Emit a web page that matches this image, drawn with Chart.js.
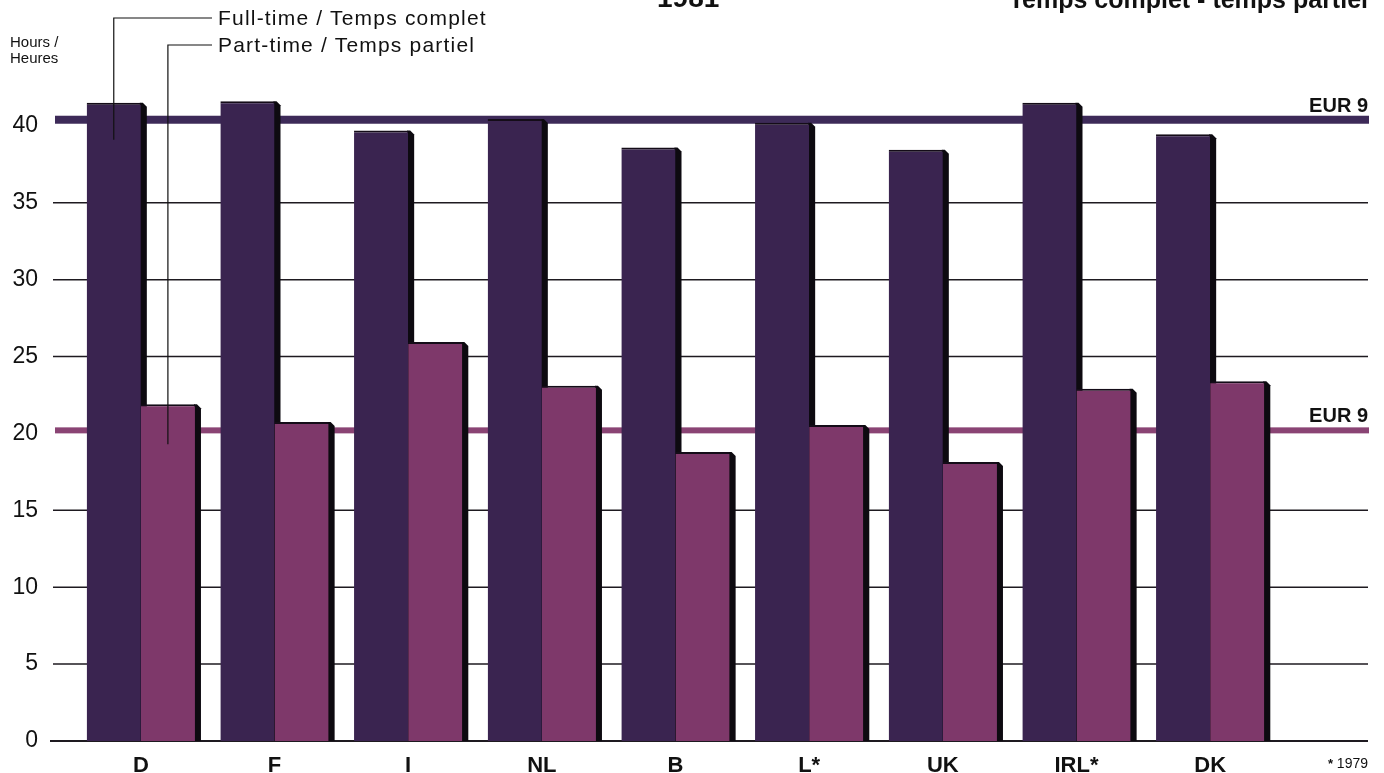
<!DOCTYPE html>
<html>
<head>
<meta charset="utf-8">
<script src="https://cdn.jsdelivr.net/npm/chart.js@4.4.0/dist/chart.umd.min.js"></script>
<style>
body{margin:0;background:#fff;}
#wrap{position:relative;width:1384px;height:773px;overflow:hidden;font-family:'Liberation Sans',Arial,sans-serif;color:#111;}
#myChart{position:absolute;left:0;top:0;}
.t{position:absolute;white-space:nowrap;}
</style>
</head>
<body>
<div id="wrap">
  <canvas id="myChart" width="1384" height="773"></canvas>
  <div class="t" style="left:657px;top:-16px;font:bold 28px/28px 'Liberation Sans',Arial;">1981</div>
  <div class="t" style="right:16px;top:-13px;font:bold 25px/25px 'Liberation Sans',Arial;">Temps complet - temps partiel</div>
  <div class="t" style="left:10px;top:34px;font:15px/16px 'Liberation Sans',Arial;">Hours /<br>Heures</div>
  <div class="t" style="left:218px;top:7px;font:21px/21px 'Liberation Sans',Arial;letter-spacing:1.2px;">Full-time / Temps complet</div>
  <div class="t" style="left:218px;top:34px;font:21px/21px 'Liberation Sans',Arial;letter-spacing:1.2px;">Part-time / Temps partiel</div>
  <div class="t" style="right:16px;top:755px;font:14px/16px 'Liberation Sans Narrow','Liberation Sans',Arial;"><span style="font-size:13px;font-weight:bold">*</span> 1979</div>
</div>
<script>
// datos (horas semanales, 1981)
const paises = ['D', 'F', 'I', 'NL', 'B', 'L*', 'UK', 'IRL*', 'DK'];
const tiempoCompleto = [41.5, 41.6, 39.7, 40.45, 38.6, 40.2, 38.45, 41.5, 39.45];
const tiempoParcial = [21.9, 20.75, 25.95, 23.1, 18.8, 20.55, 18.15, 22.9, 23.4];
const eur9Completo = 40.4;
const eur9Parcial = 20.2;
const ticksY = [0, 5, 10, 15, 20, 25, 30, 35, 40];

const colorCompleto = 'rgb(58, 36, 80)';
const colorParcial = 'rgb(126, 56, 106)';

// lineas de fondo, EUR 9 y sombras de las barras
const fondo = {
    id: 'fondo',
    beforeDatasetsDraw(chart) {
        let c = chart.ctx;
        let y = chart.scales.y;
        c.save();
        ticksY.forEach(function (v) {
            if (v == 20 || v == 40) return;
            let py = y.getPixelForValue(v);
            c.strokeStyle = '#1e1a20';
            c.lineWidth = v == 0 ? 2 : 1.5;
            c.beginPath();
            c.moveTo(v == 0 ? 50 : 53, py);
            c.lineTo(1368, py);
            c.stroke();
        });

        let py1 = y.getPixelForValue(eur9Completo);
        c.fillStyle = '#3d2a58';
        c.fillRect(55, py1 - 4, 1369 - 55, 8);
        let py2 = y.getPixelForValue(eur9Parcial);
        c.fillStyle = '#8a4474';
        c.fillRect(55, py2 - 3, 1369 - 55, 6);

        chart.data.datasets.forEach(function (ds, i) {
            chart.getDatasetMeta(i).data.forEach(function (bar) {
                let r = bar.x + bar.width / 2;
                let top = bar.y;
                let base = bar.base;
                c.fillStyle = '#0d0a10';
                c.beginPath();
                c.moveTo(r - 1, top);
                c.lineTo(r + 2, top);
                c.lineTo(r + 6, top + 4);
                c.lineTo(r + 6, base);
                c.lineTo(r - 1, base);
                c.closePath();
                c.fill();
            });
        });
        c.restore();
    },
    afterDatasetsDraw(chart) {
        let c = chart.ctx;
        let y = chart.scales.y;
        c.save();
        // etiquetas EUR 9
        c.fillStyle = '#111';
        c.font = "bold 20px 'Liberation Sans', Arial";
        c.textAlign = 'right';
        c.textBaseline = 'alphabetic';
        c.fillText('EUR 9', 1368, y.getPixelForValue(eur9Completo) - 8);
        c.fillText('EUR 9', 1368, y.getPixelForValue(eur9Parcial) - 8);

        // lineas de la leyenda
        let b1 = chart.getDatasetMeta(0).data[0];
        let b2 = chart.getDatasetMeta(1).data[0];
        c.strokeStyle = '#111';
        c.lineWidth = 1.2;
        c.beginPath();
        c.moveTo(212, 18);
        c.lineTo(b1.x, 18);
        c.lineTo(b1.x, b1.y + 37);
        c.moveTo(212, 45);
        c.lineTo(b2.x, 45);
        c.lineTo(b2.x, b2.y + 40);
        c.stroke();
        c.restore();
    }
};

var ctx = document.getElementById('myChart');
var myBarChart = new Chart(ctx, {
    type: 'bar',
    data: {
        labels: paises,
        datasets: [{
            label: 'Full-time / Temps complet',
            data: tiempoCompleto,
            backgroundColor: colorCompleto,
            borderColor: '#140c18',
            borderWidth: {top: 2, left: 0, right: 0, bottom: 0},
            borderSkipped: false
        }, {
            label: 'Part-time / Temps partiel',
            data: tiempoParcial,
            backgroundColor: colorParcial,
            borderColor: '#140c18',
            borderWidth: {top: 2, left: 0, right: 0, bottom: 0},
            borderSkipped: false
        }]
    },
    options: {
        responsive: false,
        devicePixelRatio: 1,
        animation: false,
        categoryPercentage: 0.81,
        barPercentage: 1.0,
        layout: {padding: {top: 49, right: 107, left: 0, bottom: 0}},
        plugins: {legend: {display: false}, tooltip: {enabled: false}},
        scales: {
            x: {
                afterFit: function (s) { s.height = 32; },
                grid: {display: false, drawTicks: false},
                border: {display: false},
                ticks: {padding: 14, color: '#111', font: {size: 22, weight: 'bold', family: "'Liberation Sans', Arial", lineHeight: 1}}
            },
            y: {
                min: 0,
                max: 45,
                afterBuildTicks: function (s) { s.ticks = ticksY.map(function (v) { return {value: v}; }); },
                // el padding de los ticks no debe empujar el area del grafico
                afterFit: function (s) { s.width = 74; s.paddingTop = 0; s.paddingBottom = 0; },
                grid: {display: false, drawTicks: false},
                border: {display: false},
                ticks: {padding: 36, color: '#111', font: {size: 23, family: "'Liberation Sans', Arial"}}
            }
        }
    },
    plugins: [fondo]
});
</script>
</body>
</html>
